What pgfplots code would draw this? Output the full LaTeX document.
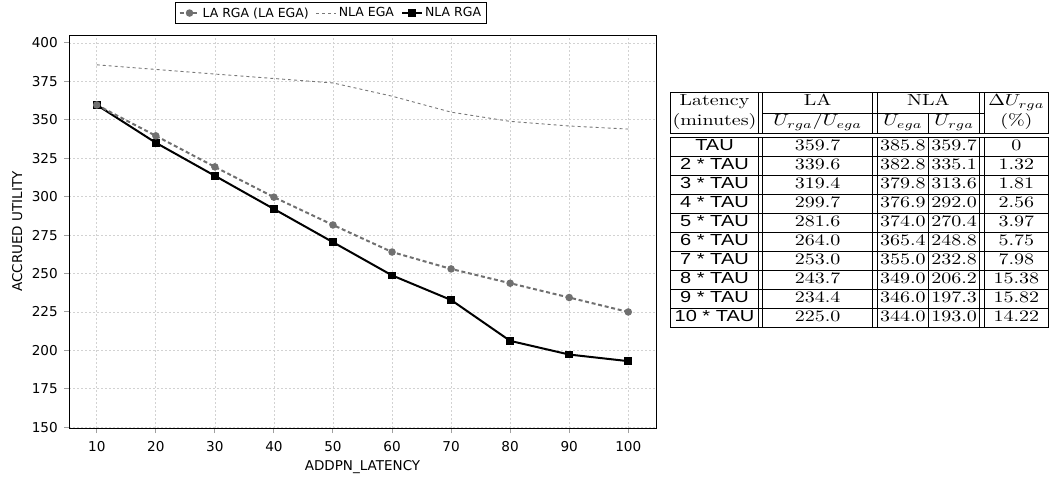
\documentclass[border=0pt]{standalone}
\usepackage{fontspec}
\usepackage{graphicx}
\usepackage{array}
\usepackage{pgfplots}
\pgfplotsset{compat=1.18}
\newfontfamily\chartfont{DejaVu Sans}
\newfontfamily\helv{Liberation Sans}
\definecolor{lagray}{RGB}{112,112,112}
\definecolor{nlagray}{RGB}{120,120,120}

\begin{document}
\begin{tikzpicture}
\path[use as bounding box] (0,0) rectangle (1051pt,-480pt);
\begin{axis}[
  at={(69pt,-428pt)}, anchor=south west,
  scale only axis, width=587pt, height=393pt,
  xmin=5.3, xmax=104.7, ymin=149.5, ymax=405.2,
  xtick={10,20,...,100}, ytick={150,175,...,400},
  tick pos=left,
  grid=major,
  grid style={gray!35, dash pattern=on 2pt off 2pt, line width=0.7pt},
  axis line style={black, line width=0.9pt},
  tick align=outside, major tick length=9pt,
  tick style={gray!75, line width=1pt, dash pattern=on 0pt off 4pt on 5pt off 0pt},
  ticklabel style={font=\chartfont\fontsize{13.6}{15}\selectfont},
  yticklabel style={inner sep=2pt},
  xticklabel style={inner sep=4pt},
  /pgf/number format/assume math mode=true,
  xlabel={ADDPN\_LATENCY}, ylabel={ACCRUED UTILITY},
  label style={font=\chartfont\fontsize{13.5}{15}\selectfont},
  xlabel style={yshift=-1pt},
  ylabel style={yshift=4pt},
  legend columns=3,
  legend style={at={(0.446,1.0835)}, anchor=north, draw=black, line width=0.7pt,
    font=\chartfont\fontsize{12.5}{14}\selectfont, inner sep=3pt,
    /tikz/every even column/.append style={column sep=5pt}},
  legend image code/.code={\draw[#1] (0pt,0pt) -- (20pt,0pt); \draw[#1, solid, mark repeat=1] plot coordinates {(10pt,0pt)};},
]
% legend entries in the original order
\addlegendimage{lagray, line width=2pt, dash pattern=on 4pt off 2.7pt, mark=*, mark size=2.7pt, mark options={solid, fill=lagray}}
\addlegendentry{LA RGA (LA EGA)}
\addlegendimage{nlagray, line width=0.9pt, dash pattern=on 3pt off 3pt}
\addlegendentry{NLA EGA}
\addlegendimage{black, line width=2pt, mark=square*, mark size=2.7pt, mark options={solid}}
\addlegendentry{NLA RGA}

% NLA RGA
\addplot[black, line width=2pt, mark=square*, mark size=2.8pt, forget plot]
  coordinates {(10,359.7) (20,335.1) (30,313.6) (40,292.0) (50,270.4)
               (60,248.8) (70,232.8) (80,206.2) (90,197.3) (100,193.0)};
% NLA EGA
\addplot[nlagray, line width=0.9pt, dash pattern=on 3pt off 3pt, forget plot]
  coordinates {(10,385.8) (20,382.8) (30,379.8) (40,376.9) (50,374.0)
               (60,365.4) (70,355.0) (80,349.0) (90,346.0) (100,344.0)};
% LA RGA (LA EGA)
\addplot[lagray, line width=2pt, dash pattern=on 4pt off 2.7pt, mark=*, mark size=2.7pt,
  mark options={solid, fill=lagray}, forget plot]
  coordinates {(10,359.7) (20,339.6) (30,319.4) (40,299.7) (50,281.6)
               (60,264.0) (70,253.0) (80,243.7) (90,234.4) (100,225.0)};

% offset axis lines
\draw[gray!75, line width=1.3pt] ([xshift=-4pt]rel axis cs:0,0) -- ([xshift=-4pt]rel axis cs:0,1);
\draw[gray!75, line width=1.3pt] ([yshift=-4.5pt]rel axis cs:0,0) -- ([yshift=-4.5pt]rel axis cs:1,0);
\end{axis}

\setlength{\tabcolsep}{0pt}
\setlength{\doublerulesep}{1.8pt}
\node[anchor=north west, inner sep=0pt] at (670pt,-92pt) {\scalebox{2.0}[1.6]{\fontsize{10}{11.5}\selectfont
\begin{tabular}{|w{c}{43.5pt}||w{c}{54.5pt}||w{c}{25.5pt}|w{c}{25pt}||w{c}{32pt}|}
\hline
\rule[-4.6pt]{0pt}{11pt}Latency & LA & \multicolumn{2}{c||}{NLA} & $\Delta U_{rga}$ \\ \cline{2-4}
\rule[-4.4pt]{0pt}{10pt}(minutes) & $U_{rga}/U_{ega}$ & $U_{ega}$ & $U_{rga}$ & (\%) \\
\hline\hline
{\helv TAU} & 359.7 & 385.8 & 359.7 & 0 \\ \hline
{\helv 2 * TAU} & 339.6 & 382.8 & 335.1 & 1.32 \\ \hline
{\helv 3 * TAU} & 319.4 & 379.8 & 313.6 & 1.81 \\ \hline
{\helv 4 * TAU} & 299.7 & 376.9 & 292.0 & 2.56 \\ \hline
{\helv 5 * TAU} & 281.6 & 374.0 & 270.4 & 3.97 \\ \hline
{\helv 6 * TAU} & 264.0 & 365.4 & 248.8 & 5.75 \\ \hline
{\helv 7 * TAU} & 253.0 & 355.0 & 232.8 & 7.98 \\ \hline
{\helv 8 * TAU} & 243.7 & 349.0 & 206.2 & 15.38 \\ \hline
{\helv 9 * TAU} & 234.4 & 346.0 & 197.3 & 15.82 \\ \hline
{\helv 10 * TAU} & 225.0 & 344.0 & 193.0 & 14.22 \\ \hline
\end{tabular}}};
\end{tikzpicture}
\end{document}
